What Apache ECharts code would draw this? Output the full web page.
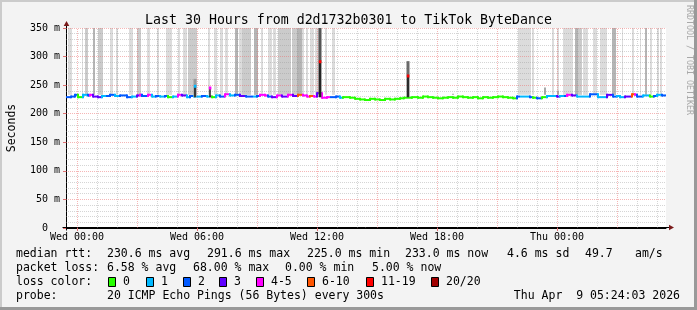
<!DOCTYPE html>
<html><head><meta charset="utf-8">
<script src="https://cdn.jsdelivr.net/npm/echarts@6/dist/echarts.min.js"></script>
<style>html,body{margin:0;padding:0;background:#f3f3f3}#c{width:697px;height:310px}</style>
</head><body><div id="c"></div>
<script>
// ---------------- data ----------------
const titleText = 'Last 30 Hours from d2d1732b0301 to TikTok ByteDance';
const yAxisName = 'Seconds';
const sideText = 'RRDTOOL / TOBI OETIKER';
// x axis in hours since Wed 00:00
const xMinHour = -0.55, xMaxHour = 29.45;
const xTickHours = [0, 6, 12, 18, 24];
const xTickLabels = ['Wed 00:00', 'Wed 06:00', 'Wed 12:00', 'Wed 18:00', 'Thu 00:00'];
const yMin = 0, yMax = 350, yStep = 50;

const lossLabels = ['0', '1', '2', '3', '4-5', '6-10', '11-19', '20/20'];
const lossColors = ['#26ff00', '#00b8ff', '#0059ff', '#5e00ff', '#ff00ff', '#ff5500', '#ff0000', '#a10000'];

// median rtt (ms) segments: start hour, value, loss class index
const medianHours = [-0.55,-0.30,-0.10,0.05,0.30,0.55,0.65,0.80,1.05,1.25,1.45,1.65,1.90,2.15,2.50,2.75,3.00,3.15,3.25,3.55,3.75,3.95,4.15,4.40,4.55,4.80,5.05,5.25,5.50,5.65,5.85,6.00,6.25,6.50,6.65,6.75,6.95,7.15,7.40,7.65,7.90,8.15,8.45,8.80,9.00,9.15,9.40,9.55,9.75,10.00,10.25,10.55,10.80,11.05,11.30,11.50,11.65,11.85,12.00,12.25,12.50,12.65,12.95,13.15,13.30,13.65,13.90,14.15,14.40,14.65,14.90,15.15,15.40,15.65,15.90,16.15,16.35,16.75,17.05,17.30,17.55,17.80,18.05,18.30,18.55,18.80,19.05,19.30,19.55,19.80,20.05,20.30,20.55,20.80,21.05,21.30,21.55,21.80,22.00,22.15,22.65,22.80,23.00,23.25,23.50,24.00,24.15,24.35,24.50,24.75,25.00,25.65,26.05,26.50,26.80,27.00,27.15,27.40,27.75,27.90,28.00,28.30,28.65,28.85,29.00,29.25];
const medianValues = [229,230,233,229,233,232,233,230,229,231,231,233,231,232,229,230,232,233,231,233,230,231,230,231,229,230,233,232,229,231,230,230,231,230,230,229,232,230,234,232,233,231,230,230,231,233,232,230,229,232,230,233,231,233,232,230,231,230,236,228,229,229,230,228,229,228,226,225,224,226,225,224,226,225,226,227,228,229,228,230,229,228,227,228,229,228,230,229,228,229,227,229,228,229,230,229,228,227,230,230,229,228,227,229,231,230,231,231,233,232,230,234,229,233,230,231,229,230,234,233,230,232,230,231,233,232];
const medianLoss   = [2,2,2,0,1,2,4,3,3,1,2,2,1,2,2,1,3,4,2,4,1,2,1,2,0,1,4,3,1,2,1,1,2,1,4,0,1,2,4,1,2,3,2,1,2,4,4,2,3,4,3,4,3,5,4,4,5,4,3,4,4,2,2,1,0,0,0,0,0,0,0,0,0,0,0,0,0,0,0,0,0,0,0,0,0,0,0,0,0,0,0,0,0,0,0,0,0,0,2,1,2,0,2,0,1,3,1,2,4,3,1,2,1,3,2,1,1,3,5,4,2,1,0,2,1,2];

// smoke bands reaching the top of the chart: start hour, end hour, shade (0 light .. 2 dark)
const smokeStart = [-0.45,0.25,0.40,0.80,1.05,1.65,1.95,2.60,3.00,3.50,4.00,4.45,5.05,5.30,5.55,6.55,6.85,7.15,7.40,7.90,8.10,8.25,8.85,9.20,9.55,9.80,10.05,10.75,11.00,11.25,11.45,11.65,11.90,12.40,12.75,22.05,22.75,23.75,24.00,24.30,24.90,25.05,25.30,25.80,26.15,26.75,27.25,27.75,28.15,28.40,28.65,29.00,29.15];
const smokeEnd   = [-0.25,0.30,0.55,0.90,1.30,1.80,2.05,2.80,3.20,3.65,4.10,4.75,5.15,5.50,6.00,6.65,7.00,7.30,7.55,8.05,8.25,8.70,9.05,9.30,9.75,9.95,10.70,11.00,11.25,11.35,11.55,11.85,12.10,12.50,12.90,22.70,22.85,23.85,24.10,24.80,25.05,25.25,25.55,26.00,26.50,26.95,27.30,27.85,28.20,28.50,28.75,29.10,29.25];
const smokeShade = [0,0,1,2,1,0,0,0,1,0,0,0,0,0,1,0,0,0,0,2,0,1,2,0,0,0,1,1,2,0,0,0,0,0,0,0,0,0,0,0,2,1,0,0,0,2,0,0,0,2,0,0,0];

// latency spikes: hour, median (ms), loss class, smoke top (ms, null = none), smoke shade
const spikeHours    = [5.90, 6.65, 12.15, 16.55];
const spikeMedian   = [248, 245, 291, 266];
const spikeLoss     = [1, 4, 6, 6];
const spikeSmokeTop = [261, null, 350, 292];
const spikeShade    = ['#9a9a9a', null, '#555555', '#6a6a6a'];

// small smoke bumps without a median jump: hour, top (ms)
const bumpHours = [18.80, 23.40, 24.05];
const bumpTops  = [235, 246, 240];

// legend / statistics text
const rowLabels = ['median rtt:', 'packet loss:', 'loss color:', 'probe:'];
const medianStats = ['230.6 ms avg', '291.6 ms max', '225.0 ms min', '233.0 ms now', '4.6 ms sd', '49.7', 'am/s'];
const lossStats = ['6.58 % avg', '68.00 % max', '0.00 % min', '5.00 % now'];
const probeText = '20 ICMP Echo Pings (56 Bytes) every 300s';
const dateText = 'Thu Apr  9 05:24:03 2026';

// ---------------- chart ----------------
const MONO = "'DejaVu Sans Mono', monospace";
const chart = echarts.init(document.getElementById('c'), null, {renderer: 'canvas'});
const shadeColors = ['#dcdcdc', '#cbcbcb', '#b5b5b5'];
const SMOKE_BASE = 233, SPIKE_BASE = 229;
const gridRed = 'rgba(235,110,110,0.5)';
const gridGray = 'rgba(150,150,150,0.4)';

const smokeData = smokeStart.map((s, i) => [s, smokeEnd[i], smokeShade[i]]);
const medianData = medianHours.map((h, i) => [h, i + 1 < medianHours.length ? medianHours[i + 1] : xMaxHour, medianValues[i], medianLoss[i], i > 0 ? medianValues[i - 1] : medianValues[i]]);
const spikeData = spikeHours.map((h, i) => [h, spikeMedian[i], spikeLoss[i], spikeSmokeTop[i] == null ? -1 : spikeSmokeTop[i], i]);
const bumpData = bumpHours.map((h, i) => [h, bumpTops[i]]);

const gridLines = [];
for (let h = Math.ceil(xMinHour); h <= Math.floor(xMaxHour); h++) {
  gridLines.push({xAxis: h, lineStyle: {color: h % 3 === 0 ? gridRed : gridGray, type: [1, 1], width: 1}});
}
for (let v = yMin + 10; v <= yMax; v += 10) {
  gridLines.push({yAxis: v, lineStyle: {color: v % yStep === 0 ? gridRed : gridGray, type: [1, 1], width: 1}});
}

const option = {
  animation: false,
  backgroundColor: '#f3f3f3',
  title: {
    text: titleText, left: 'center', top: 9,
    textStyle: {fontFamily: MONO, fontSize: 13.25, fontWeight: 'normal', color: '#000'}
  },
  grid: {left: 66, top: 28, width: 600, height: 200, show: true, backgroundColor: '#ffffff', borderWidth: 0,
    containLabel: false, outerBoundsMode: 'none'},
  xAxis: {
    type: 'value', min: xMinHour, max: xMaxHour,
    splitLine: {show: false},
    axisLine: {show: true, onZero: false, lineStyle: {color: '#000', width: 1}},
    axisTick: {show: true, customValues: xTickHours, length: 3, lineStyle: {color: '#e07070'}},
    axisLabel: {
      customValues: xTickHours,
      formatter: v => { const i = xTickHours.indexOf(v); return i >= 0 ? xTickLabels[i] : ''; },
      fontFamily: MONO, fontSize: 10, color: '#000', margin: 4
    }
  },
  yAxis: {
    type: 'value', min: yMin, max: yMax, interval: yStep,
    splitLine: {show: false},
    axisLine: {show: true, onZero: false, lineStyle: {color: '#000', width: 1}},
    axisTick: {show: true, length: 3, lineStyle: {color: '#e07070'}},
    axisLabel: {formatter: v => v === 0 ? '0  ' : v + ' m', fontFamily: MONO, fontSize: 10, color: '#000', margin: 6},
    name: yAxisName, nameLocation: 'middle', nameGap: 48, nameRotate: 90,
    nameTextStyle: {fontFamily: MONO, fontSize: 11.5, color: '#000'}
  },
  series: [
    {
      type: 'custom', name: 'smoke', z: 1, clip: true,
      data: smokeData, encode: {x: [0, 1], y: 2},
      renderItem: (params, api) => {
        const p1 = api.coord([api.value(0), yMax]);
        const p2 = api.coord([api.value(1), SMOKE_BASE]);
        return {type: 'rect', shape: {x: p1[0], y: p1[1], width: Math.max(1, p2[0] - p1[0]), height: p2[1] - p1[1]},
          style: {fill: shadeColors[api.value(2)]}};
      }
    },
    {
      type: 'custom', name: 'bumps', z: 2, clip: true,
      data: bumpData, encode: {x: 0, y: 1},
      renderItem: (params, api) => {
        const t = api.coord([api.value(0), api.value(1)]);
        const b = api.coord([api.value(0), SMOKE_BASE]);
        return {type: 'rect', shape: {x: t[0] - 1, y: t[1], width: 2, height: b[1] - t[1]}, style: {fill: '#a8a8a8'}};
      }
    },
    {
      type: 'line', name: 'grid', z: 3, data: [], silent: true,
      markLine: {silent: true, symbol: ['none', 'none'], label: {show: false}, animation: false, data: gridLines}
    },
    {
      type: 'custom', name: 'median', z: 5, clip: true,
      data: medianData, encode: {x: [0, 1], y: 2},
      renderItem: (params, api) => {
        const hs = api.value(0), he = api.value(1), v = api.value(2), loss = api.value(3), pv = api.value(4);
        const a = api.coord([hs, v]), b = api.coord([he, v]), c = api.coord([hs, pv]);
        const col = lossColors[loss];
        return {type: 'group', children: [
          {type: 'line', shape: {x1: c[0], y1: c[1], x2: a[0], y2: a[1]}, style: {stroke: col, lineWidth: 2, lineCap: 'square'}},
          {type: 'line', shape: {x1: a[0], y1: a[1], x2: b[0], y2: b[1]}, style: {stroke: col, lineWidth: 2, lineCap: 'butt'}}
        ]};
      }
    },
    {
      type: 'custom', name: 'spikes', z: 6, clip: true,
      data: spikeData, encode: {x: 0, y: 1},
      renderItem: (params, api) => {
        const h = api.value(0), m = api.value(1), loss = api.value(2), top = api.value(3), idx = api.value(4);
        const base = api.coord([h, SPIKE_BASE]);
        const mp = api.coord([h, m]);
        const children = [];
        if (top > 0) {
          const tp = api.coord([h, top]);
          children.push({type: 'rect', shape: {x: base[0] - 1.5, y: tp[1], width: 3, height: base[1] - tp[1]}, style: {fill: spikeShade[idx]}});
        }
        children.push({type: 'line', shape: {x1: base[0], y1: base[1], x2: mp[0], y2: mp[1]}, style: {stroke: '#111', lineWidth: 1.4}});
        children.push({type: 'rect', shape: {x: mp[0] - 1.2, y: mp[1] - 1.5, width: 2.6, height: 3}, style: {fill: lossColors[loss]}});
        return {type: 'group', children};
      }
    }
  ]
};
chart.setOption(option);

// decorations: axis arrows, frame, legend text
const o = chart.convertToPixel({gridIndex: 0}, [xMinHour, yMin]);
const t = chart.convertToPixel({gridIndex: 0}, [xMinHour, yMax]);
const r = chart.convertToPixel({gridIndex: 0}, [xMaxHour, yMin]);
const ax = Math.round(o[0]) + 0.5, ay = Math.round(o[1]) - 0.5;
const arrowCol = '#7a1a1a';
const W = 697, H = 310;
const textStyle = (txt, x, y, align) => ({type: 'text', x, y, silent: true,
  style: {text: txt, font: '11.5px ' + MONO, fill: '#000', align: align || 'left', verticalAlign: 'middle'}});

const g = [
  {type: 'rect', shape: {x: 0, y: 0, width: W, height: 2}, style: {fill: '#cbcbcb'}, silent: true},
  {type: 'rect', shape: {x: 0, y: 0, width: 2, height: H}, style: {fill: '#cbcbcb'}, silent: true},
  {type: 'rect', shape: {x: W - 3, y: 0, width: 3, height: H}, style: {fill: '#999999'}, silent: true},
  {type: 'rect', shape: {x: 0, y: H - 3, width: W, height: 3}, style: {fill: '#999999'}, silent: true},
  {type: 'line', shape: {x1: ax, y1: ay + 3, x2: ax, y2: t[1] - 3}, style: {stroke: '#000', lineWidth: 1}, silent: true},
  {type: 'line', shape: {x1: ax - 4, y1: ay, x2: r[0] + 3, y2: ay}, style: {stroke: '#000', lineWidth: 1}, silent: true},
  {type: 'polygon', shape: {points: [[ax - 2.8, t[1] - 2], [ax + 2.8, t[1] - 2], [ax, t[1] - 7]]}, style: {fill: arrowCol}, silent: true},
  {type: 'polygon', shape: {points: [[r[0] + 3, ay - 2.8], [r[0] + 3, ay + 2.8], [r[0] + 8, ay]]}, style: {fill: arrowCol}, silent: true},
  {type: 'text', x: 689, y: 5, rotation: -Math.PI / 2, silent: true,
    style: {text: sideText, font: '8.3px ' + MONO, fill: '#a8a8a8', align: 'left', verticalAlign: 'middle'}}
];
const rowY = [254.5, 268.5, 282, 296.5];
rowLabels.forEach((s, i) => g.push(textStyle(s, 16, rowY[i])));
const medX = [107, 207, 307, 405, 507, 585, 635];
medianStats.forEach((s, i) => g.push(textStyle(s, medX[i], rowY[0])));
const lossX = [107, 193, 285, 372];
lossStats.forEach((s, i) => g.push(textStyle(s, lossX[i], rowY[1])));
const swX = [108, 146, 183, 219, 256, 307, 366, 431];
lossLabels.forEach((s, i) => {
  g.push({type: 'rect', shape: {x: swX[i] + 0.5, y: 277.5, width: 7, height: 9}, style: {fill: lossColors[i], stroke: '#000', lineWidth: 1}, silent: true});
  g.push(textStyle(s, swX[i] + 15, rowY[2]));
});
g.push(textStyle(probeText, 107, rowY[3]));
g.push(textStyle(dateText, 680, rowY[3], 'right'));
chart.setOption({graphic: g});
</script>
</body></html>
